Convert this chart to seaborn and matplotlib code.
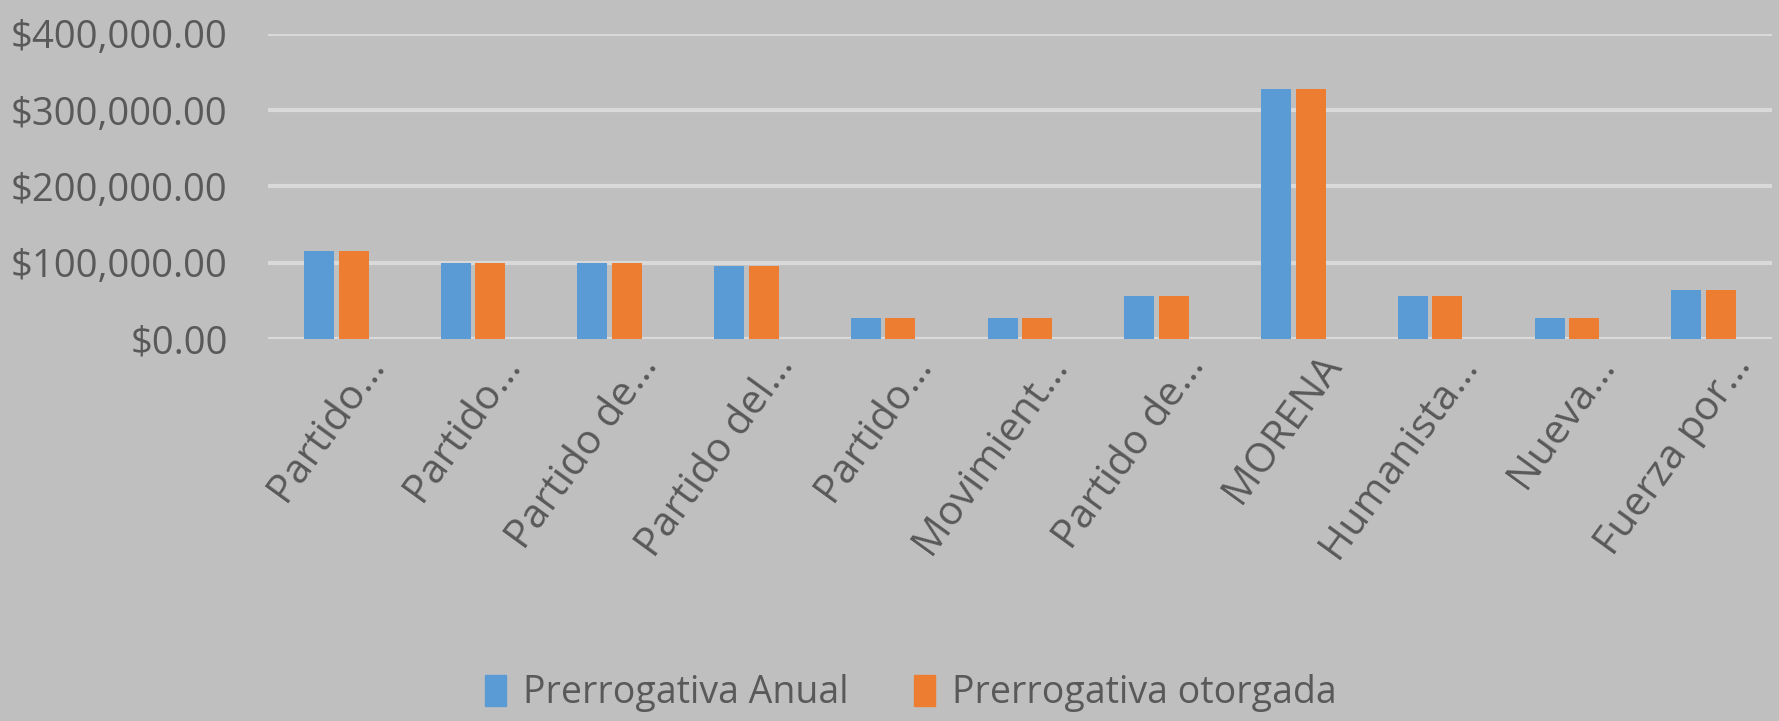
import matplotlib
matplotlib.use('Agg')
import matplotlib.pyplot as plt
import matplotlib.transforms as mtransforms
from matplotlib.ticker import FuncFormatter
import seaborn as sns
import pandas as pd

# datos del gráfico
partidos = ['Partido…', 'Partido…', 'Partido de…', 'Partido del…', 'Partido…',
            'Movimient…', 'Partido de…', 'MORENA', 'Humanista…', 'Nueva…', 'Fuerza por…']
prerrogativa_anual = [115600, 99700, 99700, 95800, 27400, 27400, 56000, 327500, 56000, 27400, 64000]
prerrogativa_otorgada = [115600, 99700, 99700, 95800, 27400, 27400, 56000, 327500, 56000, 27400, 64000]
series = ['Prerrogativa Anual', 'Prerrogativa otorgada']
colores = ['#5B9BD5', '#ED7D31']
y_ticks = [0, 100000, 200000, 300000, 400000]

# categorías con índice para que las repetidas no se fusionen
cat_ids = [f'{i}' for i in range(len(partidos))]
df = pd.DataFrame({
    'cat': cat_ids * 2,
    'valor': prerrogativa_anual + prerrogativa_otorgada,
    'serie': [series[0]] * len(partidos) + [series[1]] * len(partidos),
})

sns.set_theme(style='white')
plt.rcParams['font.family'] = ['Open Sans', 'DejaVu Sans']
fondo = '#BFBFBF'
texto = '#595959'

fig = plt.figure(figsize=(17.79, 7.21), dpi=100, facecolor=fondo)
ax = fig.add_axes([0.1506, 0.530, 0.8454, 0.423])
ax.set_facecolor(fondo)

sns.barplot(data=df, x='cat', y='valor', hue='serie', palette=colores,
            width=0.505, gap=0.13, ax=ax, legend=False, saturation=1, linewidth=0)

ax.set_ylim(0, 400000)
ax.set_yticks(y_ticks)
ax.yaxis.set_major_formatter(FuncFormatter(lambda v, p: f'${v:,.2f}'))
ax.grid(axis='y', color='#D9D9D9', linewidth=3)
ax.set_axisbelow(True)
for s in ax.spines.values():
    s.set_visible(False)

ax.set_xlabel('')
ax.set_ylabel('')
ax.set_xticks(range(len(partidos)))
ax.set_xticklabels(partidos, rotation=54, ha='right', rotation_mode='anchor')
ax.tick_params(axis='both', length=0, colors=texto, labelsize=27.5)
ax.tick_params(axis='x', labelsize=29.5, pad=6)
ax.tick_params(axis='y', pad=29)
offset = mtransforms.ScaledTranslation(0.24, 0, fig.dpi_scale_trans)
for lbl in ax.get_xticklabels():
    lbl.set_transform(lbl.get_transform() + offset)

handles = [plt.Rectangle((0, 0), 1, 1, color=c) for c in colores]
fig.legend(handles, series, loc='lower center', bbox_to_anchor=(0.512, -0.035), ncol=2,
           frameon=False, fontsize=27, labelcolor=texto,
           handlelength=0.55, handleheight=0.9, handletextpad=0.45, columnspacing=1.75)

fig.savefig('out.png', dpi=100, facecolor=fondo)
